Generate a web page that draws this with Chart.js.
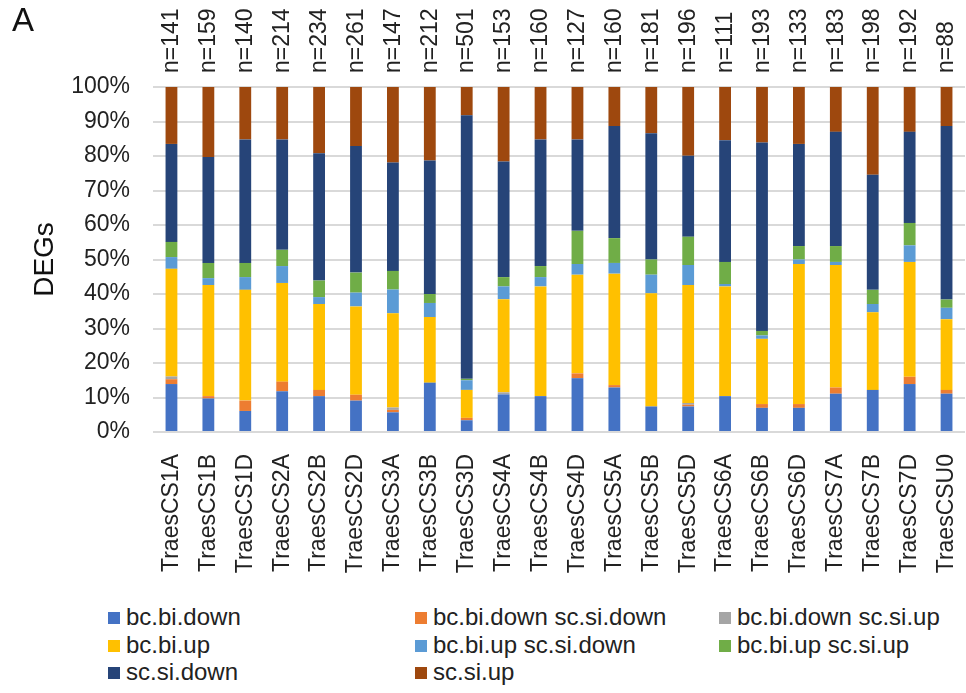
<!DOCTYPE html>
<html>
<head>
<meta charset="utf-8">
<script src="https://cdn.jsdelivr.net/npm/chart.js@4"></script>
<style>
  body { margin: 0; background: #fff; }
  #wrap { position: relative; width: 966px; height: 693px; font-family: 'Liberation Sans', Arial, sans-serif; }
  #chartBox { position: absolute; left: 0; top: 0; width: 966px; height: 600px; }
  #panel { position: absolute; left: 12px; top: 1px; font-family: 'Liberation Sans Narrow', 'Liberation Sans', Arial, sans-serif; font-size: 33px; color: #111; }
  .lg { position: absolute; font-size: 24px; color: #222; white-space: nowrap; line-height: 26px; }
  .lg span { display: inline-block; width: 12px; height: 12px; margin-right: 6px; vertical-align: 1px; }
</style>
</head>
<body>
<div id="wrap">
  <div id="chartBox"><canvas id="degChart"></canvas></div>
  <div id="panel">A</div>
  <div id="legend"></div>
</div>
<script>
var chromosomes = ['TraesCS1A', 'TraesCS1B', 'TraesCS1D', 'TraesCS2A', 'TraesCS2B', 'TraesCS2D', 'TraesCS3A', 'TraesCS3B', 'TraesCS3D', 'TraesCS4A', 'TraesCS4B',
  'TraesCS4D', 'TraesCS5A', 'TraesCS5B', 'TraesCS5D', 'TraesCS6A', 'TraesCS6B', 'TraesCS6D', 'TraesCS7A', 'TraesCS7B', 'TraesCS7D', 'TraesCSU0'];
var nLabels = ['n=141', 'n=159', 'n=140', 'n=214', 'n=234', 'n=261', 'n=147', 'n=212', 'n=501', 'n=153', 'n=160',
  'n=127', 'n=160', 'n=181', 'n=196', 'n=111', 'n=193', 'n=133', 'n=183', 'n=198', 'n=192', 'n=88'];

// percentages, bottom to top
var bcBiDown = [13.9, 9.7, 6.1, 11.8, 10.4, 9.1, 5.7, 14.3, 3.4, 10.9, 10.4, 15.6, 12.9, 7.4, 7.4, 10.4, 7.0, 7.0, 11.1, 12.2, 13.9, 11.1];
var bcBiDownScSiDown = [1.4, 0.7, 3.0, 2.8, 1.8, 1.7, 0.7, 0, 0.7, 0, 0, 1.4, 0.7, 0, 0.5, 0, 1.1, 1.1, 1.8, 0, 2.1, 1.1];
var bcBiDownScSiUp = [0.8, 0, 0, 0, 0, 0, 0.7, 0, 0, 0.6, 0, 0, 0, 0, 0.5, 0, 0, 0, 0, 0, 0, 0];
var bcBiUp = [31.2, 32.2, 32.1, 28.6, 24.9, 25.6, 27.3, 19.0, 8.1, 27.0, 31.8, 28.6, 32.3, 32.8, 34.2, 31.8, 18.9, 40.6, 35.5, 22.5, 33.3, 20.5];
var bcBiUpScSiDown = [3.4, 2.0, 3.7, 4.9, 2.0, 4.0, 6.9, 4.1, 2.8, 3.7, 2.7, 3.1, 3.1, 5.4, 5.8, 0.7, 1.0, 1.3, 0.9, 2.4, 4.8, 3.3];
var bcBiUpScSiUp = [4.4, 4.4, 4.1, 4.7, 4.8, 5.8, 5.4, 2.6, 0.4, 2.7, 3.2, 9.6, 7.2, 4.4, 8.2, 6.4, 1.3, 3.9, 4.6, 4.1, 6.5, 2.4];
var scSiDown = [28.4, 30.7, 35.8, 32.0, 36.9, 36.7, 31.4, 38.7, 76.4, 33.5, 36.7, 26.5, 32.5, 36.6, 23.5, 35.3, 54.6, 29.6, 33.1, 33.4, 26.4, 50.3];
var scSiUp = [16.5, 20.3, 15.2, 15.2, 19.2, 17.1, 21.9, 21.3, 8.2, 21.6, 15.2, 15.2, 11.3, 13.4, 19.9, 15.4, 16.1, 16.5, 13.0, 25.4, 13.0, 11.3];

var seriesNames = ['bc.bi.down', 'bc.bi.down sc.si.down', 'bc.bi.down sc.si.up', 'bc.bi.up', 'bc.bi.up sc.si.down', 'bc.bi.up sc.si.up', 'sc.si.down', 'sc.si.up'];
var seriesData = [bcBiDown, bcBiDownScSiDown, bcBiDownScSiUp, bcBiUp, bcBiUpScSiDown, bcBiUpScSiUp, scSiDown, scSiUp];
var seriesColors = ['#4472C4', '#ED7D31', '#A5A5A5', '#FFC000', '#5B9BD5', '#70AD47', '#264478', '#9E480E'];

Chart.defaults.font.family = "'Liberation Sans', Arial, sans-serif";
Chart.defaults.color = '#222';

var datasets = [];
for (var i = 0; i < seriesNames.length; i++) {
  datasets.push({
    label: seriesNames[i],
    data: seriesData[i],
    backgroundColor: seriesColors[i],
    borderWidth: 0,
    barPercentage: 0.32,
    categoryPercentage: 1
  });
}

// fixed axis sizes, no extra side padding from rotated labels
function fixHeight(h) {
  return function (axis) {
    axis.height = h;
    axis.paddingLeft = 0;
    axis.paddingRight = 0;
  };
}

var degChart = new Chart(document.getElementById('degChart'), {
  type: 'bar',
  data: { labels: chromosomes, datasets: datasets },
  options: {
    responsive: true,
    maintainAspectRatio: false,
    animation: false,
    layout: { padding: { right: 1 } },
    plugins: {
      legend: { display: false },
      tooltip: { enabled: false }
    },
    scales: {
      x: {
        stacked: true,
        grid: { display: false },
        border: { display: false },
        ticks: { autoSkip: false, minRotation: 90, maxRotation: 90, padding: 14, font: { size: 23 }, color: '#222' },
        afterFit: fixHeight(168)
      },
      x2: {
        type: 'category',
        labels: nLabels,
        position: 'top',
        offset: true,
        grid: { display: false },
        border: { display: false },
        ticks: { autoSkip: false, minRotation: 90, maxRotation: 90, padding: 6, labelOffset: 28, font: { size: 23 }, color: '#222' },
        afterFit: fixHeight(87)
      },
      y: {
        stacked: true,
        min: 0,
        max: 100,
        border: { display: false },
        grid: { color: '#d9d9d9', lineWidth: 2, drawTicks: false },
        ticks: {
          stepSize: 10,
          padding: 23,
          font: { size: 23 },
          color: '#222',
          callback: function (value) { return value + '%'; }
        },
        title: { display: true, text: 'DEGs', font: { size: 28 }, color: '#111', padding: { top: 28, bottom: 0 } },
        afterFit: function (axis) { axis.width = 153; }
      }
    }
  }
});

// Legend in three fixed columns like the original
var legendBox = document.getElementById('legend');
var colX = [108, 415, 719];
var rowY = [604, 632, 659];
degChart.data.datasets.forEach(function (ds, idx) {
  var item = document.createElement('div');
  item.className = 'lg';
  item.style.left = colX[idx % 3] + 'px';
  item.style.top = rowY[Math.floor(idx / 3)] + 'px';
  item.innerHTML = '<span style="background:' + ds.backgroundColor + '"></span>' + ds.label;
  legendBox.appendChild(item);
});
</script>
</body>
</html>
